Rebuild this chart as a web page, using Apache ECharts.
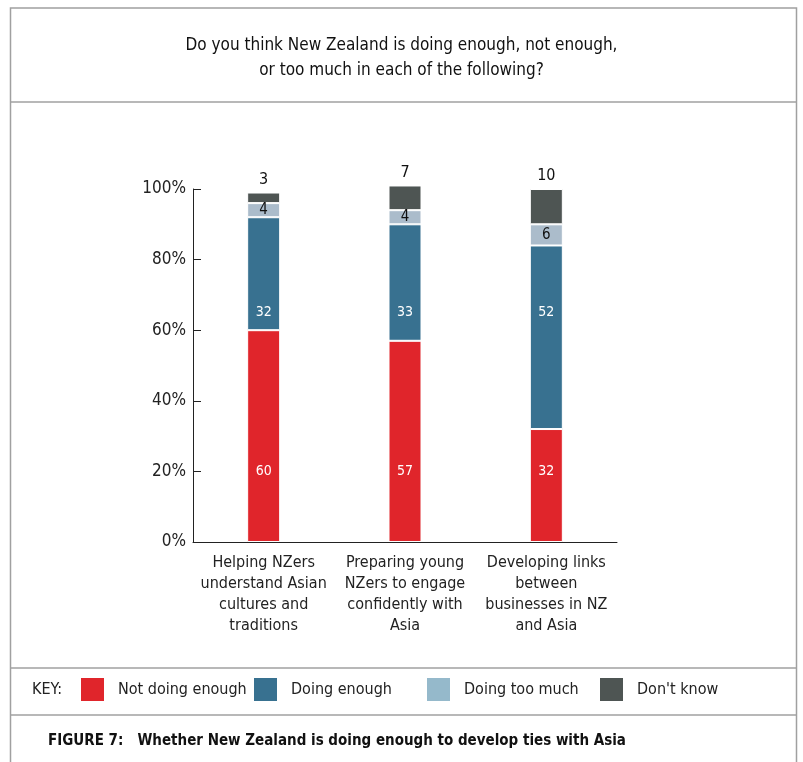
<!DOCTYPE html>
<html><head><meta charset="utf-8">
<script src="https://cdn.jsdelivr.net/npm/echarts@6/dist/echarts.min.js"></script>
<style>html,body{margin:0;padding:0;background:#fff}#c{width:803px;height:762px}</style>
</head><body><div id="c"></div>
<script>
const categories = [
  'Helping NZers\nunderstand Asian\ncultures and\ntraditions',
  'Preparing young\nNZers to engage\nconfidently with\nAsia',
  'Developing links\nbetween\nbusinesses in NZ\nand Asia'
];
const seriesNames = ['Not doing enough', 'Doing enough', 'Doing too much', "Don't know"];
const notEnough = [60, 57, 32];
const doingEnough = [32, 33, 52];
const tooMuch = [4, 4, 6];
const dontKnow = [3, 7, 10];
const yTicks = [0, 20, 40, 60, 80, 100];

const FONT = "'Liberation Sans Narrow','DejaVu Sans Condensed','Roboto',sans-serif";
const barColors = ['#e0252b', '#387190', '#abbccb', '#4e5553'];
const keyColors = ['#e0252b', '#387190', '#95b9cb', '#4e5553'];
const keyLefts = [81, 254, 427, 600];

// label anchor levels (as % of axis) seen in the reference
const redLabelLevel = 20, blueLabelLevel = 65;

function redData() {
  return notEnough.map(v => ({
    value: v,
    label: { position: ['50%', ((v - redLabelLevel) / v * 100) + '%'] }
  }));
}
function blueData() {
  return doingEnough.map((v, i) => {
    const top = notEnough[i] + v;
    return { value: v, label: { position: ['50%', ((top - blueLabelLevel) / v * 100) + '%'] } };
  });
}

const chart = echarts.init(document.getElementById('c'));
const common = { type: 'bar', stack: 'a', barWidth: 33, clip: false };
chart.setOption({
  animation: false,
  textStyle: { fontFamily: FONT },
  grid: { left: 193, right: 186, top: 189, bottom: 220 },
  legend: seriesNames.map((n, i) => ({
    left: keyLefts[i], top: 678, itemWidth: 23, itemHeight: 23, padding: 0,
    selectedMode: false,
    data: [{ name: n, icon: 'rect', itemStyle: { color: keyColors[i], borderWidth: 0 } }],
    textStyle: { fontFamily: FONT, fontSize: 16, color: '#222', padding: [0, 0, 0, 9] }
  })),
  xAxis: {
    type: 'category', data: categories,
    axisLine: { lineStyle: { color: '#222', width: 1 } },
    axisTick: { inside: true, length: 8, lineStyle: { color: '#222' } },
    axisLabel: { fontFamily: FONT, fontSize: 16, color: '#222', lineHeight: 21, margin: 10, interval: 0 }
  },
  yAxis: {
    type: 'value', min: yTicks[0], max: yTicks[yTicks.length - 1], interval: 20,
    axisLine: { show: true, lineStyle: { color: '#222', width: 1 } },
    axisTick: { show: true, inside: true, length: 8, lineStyle: { color: '#222' } },
    splitLine: { show: false },
    axisLabel: { formatter: '{value}%', fontFamily: FONT, fontSize: 17, color: '#222', margin: 7 }
  },
  graphic: [
    { type: 'rect', shape: { x: 10.5, y: 8, width: 786, height: 800 }, style: { fill: 'none', stroke: '#a0a0a0', lineWidth: 1.5 }, silent: true, z: -1 },
    { type: 'line', shape: { x1: 10, y1: 102, x2: 797, y2: 102 }, style: { stroke: '#a0a0a0', lineWidth: 1.5 } },
    { type: 'line', shape: { x1: 10, y1: 668, x2: 797, y2: 668 }, style: { stroke: '#a0a0a0', lineWidth: 1.5 } },
    { type: 'line', shape: { x1: 10, y1: 715, x2: 797, y2: 715 }, style: { stroke: '#a0a0a0', lineWidth: 1.5 } },
    { type: 'text', left: 'center', top: 33, style: { text: 'Do you think New Zealand is doing enough, not enough,\nor too much in each of the following?', font: '17px ' + FONT, fill: '#111', textAlign: 'center', lineHeight: 25 } },
    { type: 'text', left: 32, top: 682, style: { text: 'KEY:', font: '16px ' + FONT, fill: '#222' } },
    { type: 'text', left: 48, top: 734, style: { text: 'FIGURE 7:   Whether New Zealand is doing enough to develop ties with Asia', font: 'bold 15px ' + FONT, fill: '#111' } }
  ],
  series: [
    Object.assign({}, common, {
      name: seriesNames[0], data: redData(),
      itemStyle: { color: barColors[0], borderColor: '#fff', borderWidth: 1 },
      label: { show: true, color: '#fff', fontSize: 14, fontFamily: FONT, align: 'center', verticalAlign: 'middle' }
    }),
    Object.assign({}, common, {
      name: seriesNames[1], data: blueData(),
      itemStyle: { color: barColors[1], borderColor: '#fff', borderWidth: 1 },
      label: { show: true, color: '#fff', fontSize: 14, fontFamily: FONT, align: 'center', verticalAlign: 'middle' }
    }),
    Object.assign({}, common, {
      name: seriesNames[2], data: tooMuch,
      itemStyle: { color: barColors[2], borderColor: '#fff', borderWidth: 1 },
      label: { show: true, position: 'inside', color: '#111', fontSize: 15, fontFamily: FONT }
    }),
    Object.assign({}, common, {
      name: seriesNames[3], data: dontKnow,
      itemStyle: { color: barColors[3], borderColor: '#fff', borderWidth: 1 },
      label: { show: true, position: 'top', distance: 5, color: '#111', fontSize: 16, fontFamily: FONT }
    })
  ]
});
</script></body></html>
